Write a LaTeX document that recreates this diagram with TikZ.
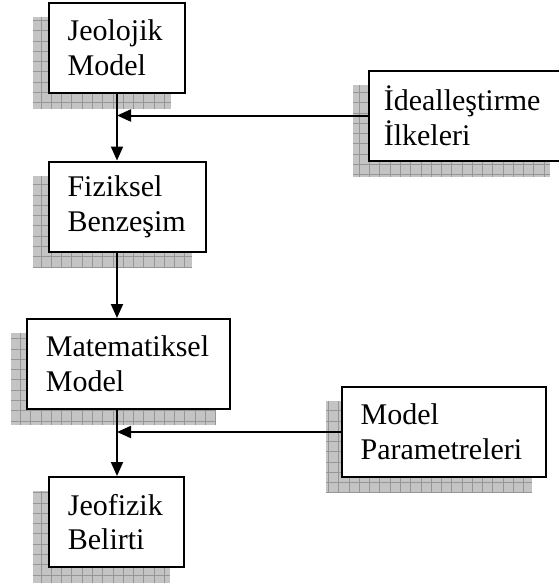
\documentclass[tikz,border=0pt]{standalone}
\usepackage{fontspec}
\setmainfont{Liberation Serif}
\usepackage{tikz}
\usetikzlibrary{arrows.meta,positioning,backgrounds,calc}

\definecolor{shadowgray}{RGB}{196,196,196}
\definecolor{gridgray}{RGB}{150,150,150}

\begin{document}
\begin{tikzpicture}[
    x=0.75pt, y=-0.75pt,
    stage/.style={rectangle, draw, line width=1.5pt, fill=white, align=left, inner xsep=14pt, minimum height=67.5pt, font=\fontsize{22.5}{26}\selectfont},
    arrow/.style={-{Triangle[length=10.5pt,width=9pt]}, line width=1.5pt}
]
\useasboundingbox (0,0) rectangle (559,583);

% main chain
\node[stage, text width=74pt] (geo) at (117,48) {Jeolojik\\Model};
\node[stage, text width=90pt] (fiz) at (127.5,206.5) {Fiziksel\\Benzeşim};
\node[stage, text width=124pt] (mat) at (128.5,364) {Matematiksel\\Model};
\node[stage, text width=73pt] (jeof) at (116.5,522) {Jeofizik\\Belirti};

% side inputs
\node[stage, text width=124pt, inner xsep=11pt] (ideal) at (466.5,115.5) {İdealleştirme\\İlkeleri};
\node[stage, text width=125pt] (param) at (444,432) {Model\\Parametreleri};

% shadows
\begin{scope}[on background layer]
\foreach \n in {geo,fiz,mat,jeof,ideal,param} {
  \begin{scope}
    \clip ([shift={(-15,15)}]\n.south west) rectangle ([shift={(-15,15)}]\n.north east);
    \fill[shadowgray] ([shift={(-15,15)}]\n.south west) rectangle ([shift={(-15,15)}]\n.north east);
    \draw[gridgray, line width=0.6pt, xstep=7.7pt, ystep=7.7pt] ([shift={(-15,15)}]\n.south west) grid ([shift={(-15,15)}]\n.north east);
  \end{scope}
}
\end{scope}

% arrows
\coordinate (spine) at (117,0);
\draw[arrow] (spine |- geo.south) -- (spine |- fiz.north);
\draw[arrow] (ideal.west) -- (spine |- ideal.west);
\draw[arrow] (spine |- fiz.south) -- (spine |- mat.north);
\draw[arrow] (spine |- mat.south) -- (spine |- jeof.north);
\draw[arrow] (param.west) -- (spine |- param.west);

\end{tikzpicture}
\end{document}
